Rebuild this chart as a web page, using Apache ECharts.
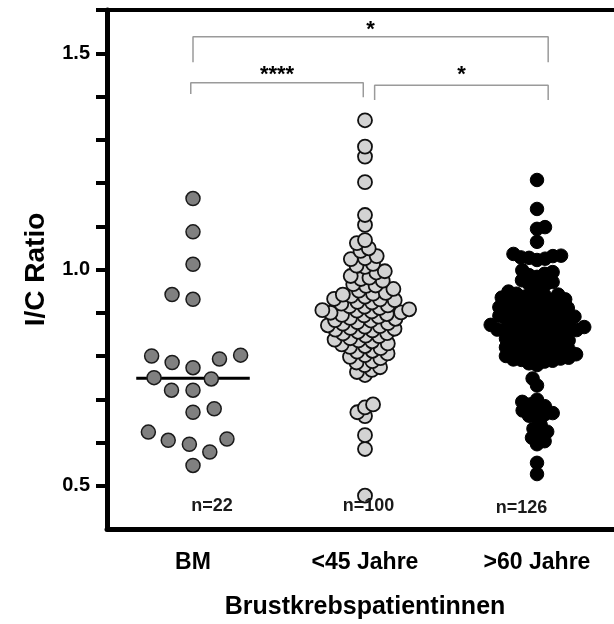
<!DOCTYPE html>
<html>
<head>
<meta charset="utf-8">
<script src="https://cdn.jsdelivr.net/npm/echarts@6/dist/echarts.min.js"></script>
<style>
  html, body { margin: 0; padding: 0; background: #fff; }
  #chart { width: 614px; height: 624px; }
</style>
</head>
<body>
<div id="chart"></div>
<script>
// Gruppen
var categories = ['BM', '<45 Jahre', '>60 Jahre'];

// I/C Ratio je Patientin
var bmValues = [1.164, 1.087, 1.012, 0.931, 0.942, 0.800, 0.802, 0.793, 0.785, 0.773, 0.747,
    0.750, 0.721, 0.721, 0.670, 0.678, 0.624, 0.605, 0.608, 0.596, 0.578, 0.547];

var youngValues = [1.345, 1.284, 1.261, 1.202, 1.126, 1.103,
    1.068, 1.061, 1.049, 1.043, 1.031,
    1.026, 1.024, 1.013, 1.009, 1.006, 0.996, 0.993, 0.985, 0.981,
    0.978, 0.974, 0.966, 0.963, 0.962, 0.955, 0.951, 0.946, 0.944, 0.942,
    0.939, 0.937, 0.932, 0.931, 0.929, 0.925, 0.924, 0.921, 0.917, 0.915, 0.914, 0.911, 0.908, 0.906, 0.905, 0.903, 0.901, 0.900,
    0.897, 0.895, 0.894, 0.891, 0.888, 0.886, 0.883, 0.882, 0.878, 0.876, 0.875, 0.871, 0.869, 0.868, 0.865, 0.863, 0.861, 0.859,
    0.856, 0.853, 0.852, 0.847, 0.846, 0.841, 0.838, 0.836, 0.834, 0.829, 0.827, 0.823, 0.821,
    0.818, 0.812, 0.810, 0.806, 0.802, 0.798, 0.795, 0.788, 0.785,
    0.779, 0.774, 0.768, 0.763, 0.756,
    0.688, 0.681, 0.670, 0.661, 0.617, 0.585, 0.477];

var oldValues = [1.207, 1.140, 1.098, 1.094, 1.064,
    1.036, 1.032, 1.031, 1.028, 1.027, 1.025, 1.022,
    0.998, 0.994, 0.990, 0.987, 0.983, 0.975, 0.971, 0.966, 0.964, 0.960,
    0.949, 0.947, 0.944, 0.942, 0.940, 0.937, 0.935, 0.934, 0.931, 0.929,
    0.928, 0.925, 0.923, 0.921, 0.918, 0.915, 0.913, 0.911, 0.909, 0.907,
    0.905, 0.904, 0.902, 0.899, 0.897, 0.895, 0.893, 0.891, 0.889, 0.887,
    0.884, 0.882, 0.881, 0.879, 0.876, 0.874, 0.872, 0.871, 0.869, 0.867,
    0.866, 0.864, 0.862, 0.861, 0.860, 0.859, 0.858, 0.857,
    0.855, 0.852, 0.849, 0.847, 0.845, 0.843, 0.840, 0.838, 0.836, 0.833,
    0.831, 0.829, 0.827, 0.825, 0.822, 0.820, 0.818, 0.816, 0.814, 0.812,
    0.810, 0.808, 0.806, 0.804, 0.802, 0.800, 0.798, 0.796, 0.794, 0.792,
    0.791, 0.789, 0.787,
    0.783, 0.779, 0.748, 0.732,
    0.699, 0.694, 0.688, 0.684, 0.678, 0.674, 0.668, 0.665, 0.662, 0.658,
    0.641, 0.632, 0.625, 0.619, 0.611, 0.603, 0.596,
    0.553, 0.527];

var nLabels = ['n=22', 'n=100', 'n=126'];

// Signifikanzen: Gruppe von - bis, Sterne
var comparisons = [[0, 2, '*'], [0, 1, '****'], [1, 2, '*']];

// Achsen
var yTicks = [0.5, 0.6, 0.7, 0.8, 0.9, 1.0, 1.1, 1.2, 1.3, 1.4, 1.5, 1.6];
var yTickLabels = [0.5, 1.0, 1.5];

// Layout
var GRID = {left: 107, top: 10, width: 516, height: 519};
var Y_MIN = 0.4, Y_MAX = 1.6;
var pxPerY = GRID.height / (Y_MAX - Y_MIN);
var pxPerCat = GRID.width / categories.length;
var FONT = 'Liberation Sans, Arial, sans-serif';

// Beeswarm: jeden Punkt so nah wie möglich an die Mitte, ohne Abstand d (px) zu unterschreiten
function swarm(values, group, d) {
    var pts = values.map(function (v) { return {v: v, y: v * pxPerY, x: 0}; });
    pts.sort(function (a, b) { return a.v - b.v; });
    var placed = [];
    var flip = 1;
    pts.forEach(function (p) {
        var cands = [0];
        placed.forEach(function (q) {
            var dy = Math.abs(q.y - p.y);
            if (dy < d) {
                var dx = Math.sqrt(d * d - dy * dy);
                cands.push(q.x + dx, q.x - dx);
            }
        });
        cands.sort(function (a, b) {
            return (Math.abs(a) - Math.abs(b)) || (a - b) * flip;
        });
        for (var i = 0; i < cands.length; i++) {
            var c = cands[i];
            var ok = placed.every(function (q) {
                return (q.x - c) * (q.x - c) + (q.y - p.y) * (q.y - p.y) >= d * d - 1e-6;
            });
            if (ok) { p.x = c; break; }
        }
        flip = -flip;
        placed.push(p);
    });
    return placed.map(function (p) { return [group + p.x / pxPerCat, p.v]; });
}

function median(arr) {
    var s = arr.slice().sort(function (a, b) { return a - b; });
    var m = Math.floor(s.length / 2);
    return s.length % 2 ? s[m] : (s[m - 1] + s[m]) / 2;
}

// Klammern (Lage der Linien ist reine Gestaltung)
var bracketGeom = [
    {x1: 0, x2: 2.065, y: 1.538, y1: 1.479, y2: 1.479, ty: 1.555},
    {x1: -0.013, x2: 0.99, y: 1.432, y1: 1.406, y2: 1.398, ty: 1.451},
    {x1: 1.056, x2: 2.065, y: 1.426, y1: 1.392, y2: 1.392, ty: 1.451}
];
var nLabelPos = [[0.11, 0.453], [1.02, 0.453], [1.91, 0.449]];

var textLabel = {show: true, position: 'inside', color: '#000', textBorderWidth: 0,
    fontFamily: FONT, fontWeight: 'bold'};

var series = [];

var bmMed = median(bmValues);
series.push({
    type: 'line', xAxisIndex: 1, yAxisIndex: 0, silent: true, symbol: 'none', z: 1,
    lineStyle: {color: '#000', width: 3},
    data: [[0 - 0.33, bmMed], [0 + 0.33, bmMed]]
});

series.push({
    type: 'scatter', xAxisIndex: 1, symbolSize: 14, z: 2,
    itemStyle: {color: '#808080', borderColor: '#1a1a1a', borderWidth: 1.5, opacity: 1},
    data: swarm(bmValues, 0, 21.5)
});
series.push({
    type: 'scatter', xAxisIndex: 1, symbolSize: 14, z: 2,
    itemStyle: {color: '#d3d3d3', borderColor: '#111', borderWidth: 1.8, opacity: 1},
    data: swarm(youngValues, 1, 8.6)
});
series.push({
    type: 'scatter', xAxisIndex: 1, symbolSize: 13.5, z: 2,
    itemStyle: {color: '#000', borderColor: '#000', borderWidth: 1, opacity: 1},
    data: swarm(oldValues, 2, 8.2)
});

comparisons.forEach(function (c, i) {
    var g = bracketGeom[i];
    series.push({
        type: 'line', xAxisIndex: 1, silent: true, symbol: 'none', z: 3,
        lineStyle: {color: '#9a9a9a', width: 1.5},
        data: [[g.x1, g.y1], [g.x1, g.y], [g.x2, g.y], [g.x2, g.y2]]
    });
    series.push({
        type: 'scatter', xAxisIndex: 1, silent: true, symbolSize: 1, z: 4,
        itemStyle: {color: 'rgba(0,0,0,0)', opacity: 1},
        label: Object.assign({}, textLabel, {formatter: c[2], fontSize: 22}),
        data: [[(g.x1 + g.x2) / 2, g.ty]]
    });
});

series.push({
    type: 'scatter', xAxisIndex: 1, silent: true, symbolSize: 1, z: 4,
    itemStyle: {color: 'rgba(0,0,0,0)', opacity: 1},
    label: Object.assign({}, textLabel, {fontSize: 18, color: '#1a1a1a',
        formatter: function (p) { return nLabels[p.dataIndex]; }}),
    data: nLabelPos
});

var chart = echarts.init(document.getElementById('chart'));
chart.setOption({
    animation: false,
    backgroundColor: '#fff',
    grid: {
        left: GRID.left, top: GRID.top, width: GRID.width, height: GRID.height,
        show: true, borderColor: '#000', borderWidth: 4, outerBoundsMode: 'none'
    },
    xAxis: [
        {
            type: 'category',
            data: categories,
            position: 'bottom',
            axisLine: {onZero: false, lineStyle: {color: '#000', width: 5}},
            axisTick: {alignWithLabel: true, length: 12, lineStyle: {color: '#000', width: 4}},
            axisLabel: {color: '#000', fontFamily: FONT, fontWeight: 'bold', fontSize: 23, margin: 22},
            splitLine: {show: false},
            name: 'Brustkrebspatientinnen',
            nameLocation: 'middle',
            nameGap: 66,
            nameTextStyle: {color: '#000', fontFamily: FONT, fontWeight: 'bold', fontSize: 25}
        },
        {
            type: 'value', show: false, min: -0.5, max: 2.5
        }
    ],
    yAxis: {
        type: 'value',
        min: Y_MIN, max: Y_MAX,
        axisLine: {show: true, onZero: false, lineStyle: {color: '#000', width: 5}},
        axisTick: {show: true, customValues: yTicks, length: 11, lineStyle: {color: '#000', width: 4}},
        axisLabel: {customValues: yTickLabels, color: '#000', fontFamily: FONT, fontWeight: 'bold', fontSize: 20, margin: 17,
            formatter: function (v) { return v.toFixed(1); }},
        splitLine: {show: false},
        name: 'I/C Ratio',
        nameLocation: 'middle',
        nameGap: 57,
        nameTextStyle: {color: '#000', fontFamily: FONT, fontWeight: 'bold', fontSize: 28}
    },
    series: series
});
</script>
</body>
</html>
